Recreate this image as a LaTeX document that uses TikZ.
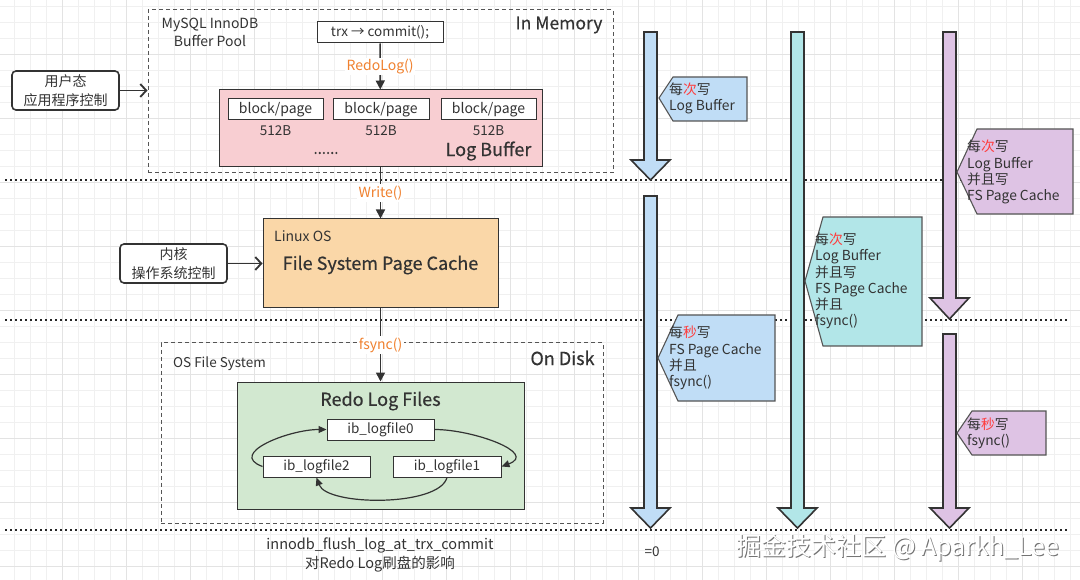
\documentclass[tikz,border=0pt]{standalone}
\usepackage{fontspec}
\setmainfont{Noto Sans CJK SC}
\newfontfamily\medf[FakeBold=0.5]{Noto Sans CJK SC}
\usetikzlibrary{arrows.meta}
\definecolor{txt}{HTML}{333333}
\definecolor{orng}{HTML}{F0812F}
\definecolor{pinkf}{HTML}{F8CED2}
\definecolor{peach}{HTML}{FAD7A8}
\definecolor{greenf}{HTML}{D2E8D0}
\definecolor{bluef}{HTML}{C0DDF6}
\definecolor{cyanf}{HTML}{B2E6E8}
\definecolor{purpf}{HTML}{DEC3E4}
\definecolor{gridmin}{HTML}{F0F0F0}
\definecolor{gridmaj}{HTML}{E3E3E3}
\definecolor{redc}{HTML}{FF3B3B}
\definecolor{dashc}{HTML}{555555}
\newcommand{\blockarr}[5]{%
  \draw[draw=txt, line width=1.6pt, fill=#1, line join=miter]
    (#2-6.5,#3) -- (#2+6.5,#3) -- (#2+6.5,#4) -- (#2+19.5,#4) -- (#2,#5)
    -- (#2-19.5,#4) -- (#2-6.5,#4) -- cycle;}
\newcommand{\callout}[7]{%
  \draw[draw=dashc, line width=1.1pt, fill=#1]
    (#2,#3) -- (#4,#6) -- (#5,#6) -- (#5,#7) -- (#4,#7) -- cycle;}
\begin{document}
\begin{tikzpicture}[x=1pt,y=-1pt, text=txt,
  font=\fontsize{13.5}{16}\selectfont,
  box/.style={draw=txt, line width=1pt, fill=white, inner sep=0pt, text=txt},
  dashbox/.style={draw=dashc, line width=1pt, dash pattern=on 4pt off 3pt, inner sep=0pt},
  flow/.style={draw=txt, line width=1.6pt, -{Triangle[length=9pt,width=9pt]}},
  lbl/.style={text=orng, fill=white, inner sep=1.5pt, font=\fontsize{14}{15}\selectfont},
  ctrl/.style={draw=txt, rounded corners=4pt, line width=1.6pt, fill=white, align=center, inner sep=0pt, font=\fontsize{14}{19}\selectfont},
  sidearrow/.style={draw=txt, line width=1.8pt, -{Straight Barb[length=6pt,width=13pt]}},
  big/.style={font=\medf\fontsize{18}{20}\selectfont},
  dotline/.style={draw=black!85, line width=2pt, dash pattern=on 2pt off 3pt},
  ctext/.style={anchor=west, align=left, inner sep=0pt, font=\fontsize{13.8}{16.2}\selectfont},
  curv/.style={draw=txt, line width=1.2pt, -{Triangle[length=8pt,width=7pt]}}
]
\useasboundingbox (0,0) rectangle (1080,580);
\fill[white] (0,0) rectangle (1080,580);
% grid
\foreach \x in {14,30,...,1078} \draw[gridmin, line width=0.8pt] (\x,0) -- (\x,580);
\foreach \y in {6,22,...,578} \draw[gridmin, line width=0.8pt] (0,\y) -- (1080,\y);
\foreach \x in {62,126,...,1054} \draw[gridmaj, line width=0.9pt] (\x,0) -- (\x,580);
\foreach \y in {54,118,...,566} \draw[gridmaj, line width=0.9pt] (0,\y) -- (1080,\y);
% dotted separators
\draw[dotline] (5,180) -- (1068,180);
\draw[dotline] (5,320) -- (1068,320);
\draw[dotline] (5,530) -- (1068,530);

% In memory region
\node[dashbox, minimum width=465pt, minimum height=163pt] (mem) at (380.5,91.5) {};
\node[align=center, inner sep=0pt, font=\fontsize{14}{18}\selectfont] (mysql) at (210,32) {MySQL InnoDB\\Buffer Pool};
\node[big, inner sep=0pt, font=\medf\fontsize{17.5}{20}\selectfont] (inmem) at (559,25) {In Memory};
\node[box, minimum width=126pt, minimum height=21pt] (trx) at (380,32.5) {trx → commit();};
\node[box, fill=pinkf, minimum width=323pt, minimum height=77pt] (lb) at (380.5,128.5) {};
\node[box, minimum width=95pt, minimum height=21pt, font=\fontsize{14}{16}\selectfont] (b1) at (275.5,109.5) {block/page};
\node[box, minimum width=96pt, minimum height=21pt, font=\fontsize{14}{16}\selectfont] (b2) at (381,109.5) {block/page};
\node[box, minimum width=95pt, minimum height=21pt, font=\fontsize{14}{16}\selectfont] (b3) at (488.5,109.5) {block/page};
\node[inner sep=0pt, font=\fontsize{13.5}{14}\selectfont] (s1) at (275.5,131) {512B};
\node[inner sep=0pt, font=\fontsize{13.5}{14}\selectfont] (s2) at (381,131) {512B};
\node[inner sep=0pt, font=\fontsize{13.5}{14}\selectfont] (s3) at (488.5,131) {512B};
\node[inner sep=0pt, font=\medf\fontsize{15}{16}\selectfont] (dots) at (326,153) {......};
\node[big, inner sep=0pt] (lbname) at (488.5,151) {Log Buffer};
\draw[flow] (trx) -- node[lbl] (redo) {RedoLog()} (lb);

\node[ctrl, minimum width=107pt, minimum height=39pt] (user) at (65.5,90.5) {用户态\\应用程序控制};
\draw[sidearrow] (user.east) -- (user.east -| mem.west);

% OS page cache
\node[box, fill=peach, minimum width=235pt, minimum height=89pt] (fs) at (380.5,263.5) {};
\node[inner sep=0pt, anchor=west, font=\fontsize{14}{16}\selectfont] (linux) at (274,236) {Linux OS};
\node[big, inner sep=0pt] (fsname) at (380.5,265) {File System Page Cache};
\node[ctrl, minimum width=107pt, minimum height=39pt] (kern) at (173.5,263.5) {内核\\操作系统控制};
\draw[sidearrow] (kern.east) -- (fs.west);
\draw[flow] (lb) -- node[lbl] (write) {Write()} (fs);

% On disk
\node[dashbox, minimum width=442pt, minimum height=180pt] (disk) at (382,433) {};
\node[inner sep=0pt, anchor=west] (osfs) at (173,364) {OS File System};
\node[big, inner sep=0pt] (ondisk) at (562.5,358) {On Disk};
\node[box, fill=greenf, minimum width=287pt, minimum height=127pt] (green) at (380.5,445.5) {};
\node[big, inner sep=0pt] (rlf) at (380.5,401) {Redo Log Files};
\node[box, minimum width=107pt, minimum height=21pt] (l0) at (380.5,429.5) {ib\_logfile0};
\node[box, minimum width=107pt, minimum height=21pt] (l2) at (316.5,466.5) {ib\_logfile2};
\node[box, minimum width=108pt, minimum height=21pt] (l1) at (447,466.5) {ib\_logfile1};
\draw[flow] (fs) -- node[lbl] (fsync) {fsync()} (green);
\draw[curv] (l0.east) to[out=0, in=20, looseness=1.3] (l1.east);
\draw[curv] (l1.south) to[out=-105, in=-70, looseness=0.6] (l2.south);
\draw[curv] (l2.west) to[out=160, in=180, looseness=1.3] (l0.west);

% caption
\node[align=center, inner sep=0pt, font=\fontsize{14.5}{18.5}\selectfont] (cap) at (380,555) {innodb\_flush\_log\_at\_trx\_commit\\对Redo Log刷盘的影响};
\node[inner sep=0pt] (eq0) at (652,552) {=0};

% column 1
\blockarr{bluef}{650.5}{32}{160}{180}
\blockarr{bluef}{650.5}{196}{508}{528}
\callout{bluef}{659}{98}{673}{747}{77}{121}
\node[ctext] (c1a) at (669,98) {每\textcolor{redc}{次}写\\Log Buffer};
\callout{bluef}{658}{358}{678}{775}{315}{401}
\node[ctext] (c1b) at (669,358) {每\textcolor{redc}{秒}写\\FS Page Cache\\并且\\fsync()};
% column 2
\blockarr{cyanf}{797.5}{32}{508}{528}
\callout{cyanf}{805}{281}{823}{922}{217}{346}
\node[ctext] (c2a) at (815,281) {每\textcolor{redc}{次}写\\Log Buffer\\并且写\\FS Page Cache\\并且\\fsync()};
% column 3
\blockarr{purpf}{949.5}{32}{298}{319}
\blockarr{purpf}{949.5}{334}{508}{528}
\callout{purpf}{957}{172}{977}{1073}{129}{214}
\node[ctext] (c3a) at (967,172) {每\textcolor{redc}{次}写\\Log Buffer\\并且写\\FS Page Cache};
\callout{purpf}{957}{433}{972}{1046}{411}{455}
\node[ctext] (c3b) at (967,433) {每\textcolor{redc}{秒}写\\fsync()};

% watermark
\node[inner sep=0pt, text=black!55, font=\fontsize{25}{28}\selectfont] (wmsh) at (899,549) {掘金技术社区 @ Aparkh\_Lee};
\node[inner sep=0pt, text=white, font=\fontsize{25}{28}\selectfont] (wm) at (898,548) {掘金技术社区 @ Aparkh\_Lee};
\end{tikzpicture}
\end{document}
